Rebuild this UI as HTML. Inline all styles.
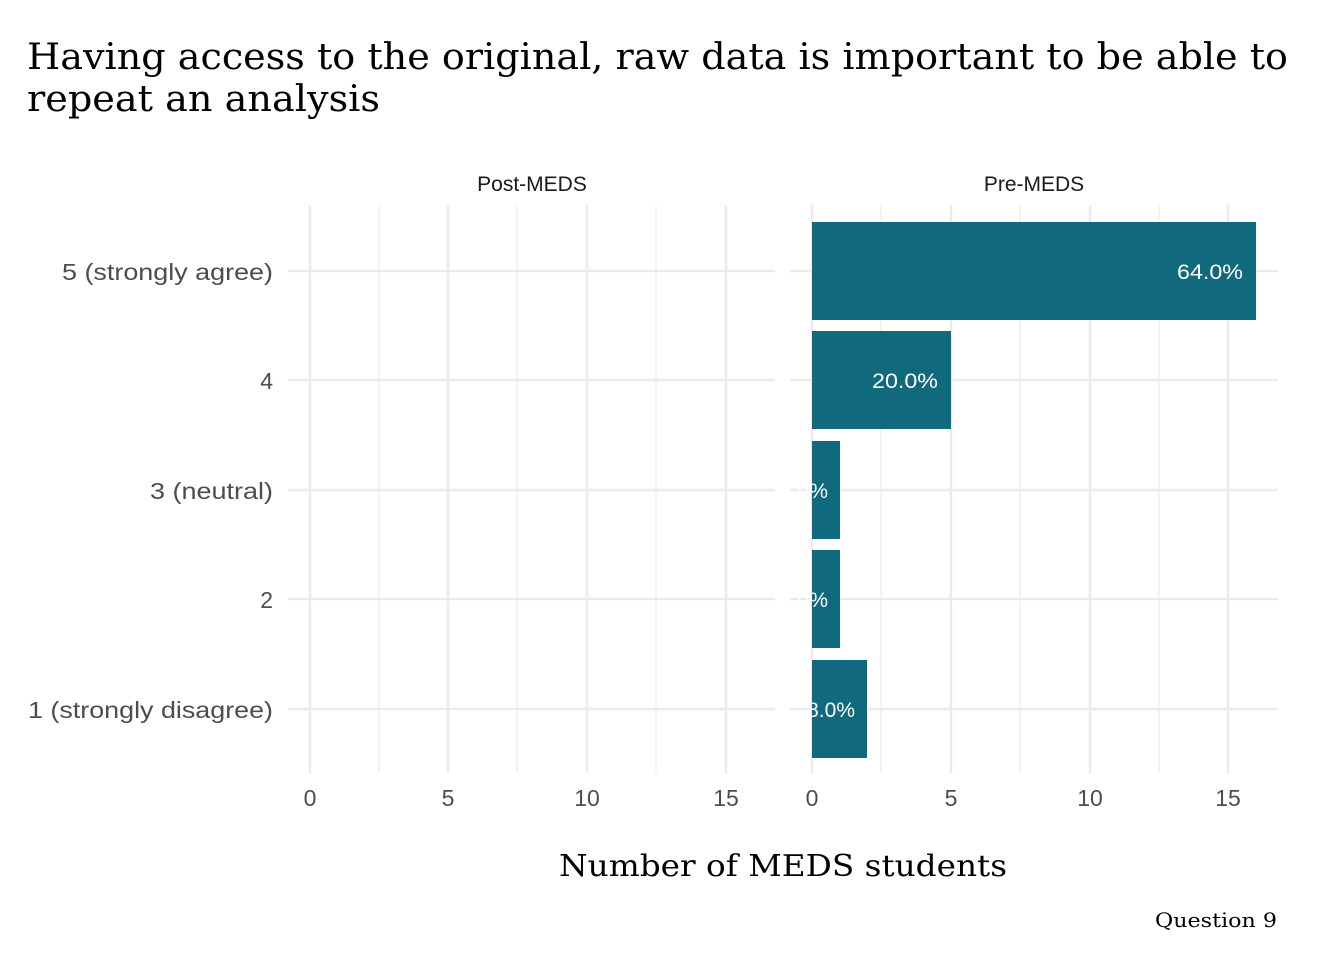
<!DOCTYPE html>
<html><head><meta charset="utf-8"><style>html,body{margin:0;padding:0;background:#fff}</style></head>
<body>
<svg width="1344" height="960" xmlns="http://www.w3.org/2000/svg">
<rect width="1344" height="960" fill="#fff"/>
<g font-family="DejaVu Serif, Liberation Serif, serif" fill="#000">
<text x="27" y="69" font-size="36" textLength="1261" lengthAdjust="spacingAndGlyphs">Having access to the original, raw data is important to be able to</text>
<text x="27" y="111" font-size="36" textLength="353" lengthAdjust="spacingAndGlyphs">repeat an analysis</text>
<text x="783" y="876" font-size="30" text-anchor="middle" textLength="448" lengthAdjust="spacingAndGlyphs">Number of MEDS students</text>
<text x="1277" y="927" font-size="20" text-anchor="end" textLength="122" lengthAdjust="spacingAndGlyphs">Question 9</text>
</g>
<g font-family="Liberation Sans, sans-serif" font-size="21" fill="#1a1a1a" text-anchor="middle">
<text x="532" y="191">Post-MEDS</text>
<text x="1034" y="191">Pre-MEDS</text>
</g>
<g stroke="#ebebeb" stroke-width="1.2">
<line x1="379" y1="205" x2="379" y2="773"/><line x1="517" y1="205" x2="517" y2="773"/><line x1="656" y1="205" x2="656" y2="773"/>
<line x1="881" y1="205" x2="881" y2="773"/><line x1="1020" y1="205" x2="1020" y2="773"/><line x1="1159" y1="205" x2="1159" y2="773"/>
</g>
<g stroke="#ebebeb" stroke-width="2.5">
<line x1="310" y1="205" x2="310" y2="773"/><line x1="448" y1="205" x2="448" y2="773"/><line x1="587" y1="205" x2="587" y2="773"/><line x1="726" y1="205" x2="726" y2="773"/>
<line x1="812" y1="205" x2="812" y2="773"/><line x1="951" y1="205" x2="951" y2="773"/><line x1="1090" y1="205" x2="1090" y2="773"/><line x1="1228" y1="205" x2="1228" y2="773"/>
<line x1="288" y1="271" x2="775" y2="271"/><line x1="288" y1="380" x2="775" y2="380"/><line x1="288" y1="490" x2="775" y2="490"/><line x1="288" y1="599" x2="775" y2="599"/><line x1="288" y1="709" x2="775" y2="709"/>
<line x1="790" y1="271" x2="1278" y2="271"/><line x1="790" y1="380" x2="1278" y2="380"/><line x1="790" y1="490" x2="1278" y2="490"/><line x1="790" y1="599" x2="1278" y2="599"/><line x1="790" y1="709" x2="1278" y2="709"/>
</g>
<g fill="#11697d">
<rect x="812" y="222" width="444" height="98"/>
<rect x="812" y="331" width="139" height="98"/>
<rect x="812" y="441" width="28" height="98"/>
<rect x="812" y="550" width="28" height="98"/>
<rect x="812" y="660" width="55" height="98"/>
</g>
<g font-family="Liberation Sans, sans-serif" font-size="21" fill="#fff" text-anchor="end">
<text x="1243" y="279" textLength="66" lengthAdjust="spacingAndGlyphs">64.0%</text>
<text x="938" y="388" textLength="66" lengthAdjust="spacingAndGlyphs">20.0%</text>
<text x="828" y="498">4.0%</text>
<text x="828" y="607">4.0%</text>
<text x="855" y="717">8.0%</text>
</g>
<g font-family="Liberation Sans, sans-serif" font-size="23" fill="#4d4d4d" text-anchor="end">
<text x="273" y="280" textLength="211" lengthAdjust="spacingAndGlyphs">5 (strongly agree)</text>
<text x="273" y="389">4</text>
<text x="273" y="499" textLength="123" lengthAdjust="spacingAndGlyphs">3 (neutral)</text>
<text x="273" y="608">2</text>
<text x="273" y="718" textLength="245" lengthAdjust="spacingAndGlyphs">1 (strongly disagree)</text>
</g>
<g font-family="Liberation Sans, sans-serif" font-size="23" fill="#4d4d4d" text-anchor="middle">
<text x="310" y="806">0</text><text x="448" y="806">5</text><text x="587" y="806">10</text><text x="726" y="806">15</text>
<text x="812" y="806">0</text><text x="951" y="806">5</text><text x="1090" y="806">10</text><text x="1228" y="806">15</text>
</g>
</svg>
</body></html>
